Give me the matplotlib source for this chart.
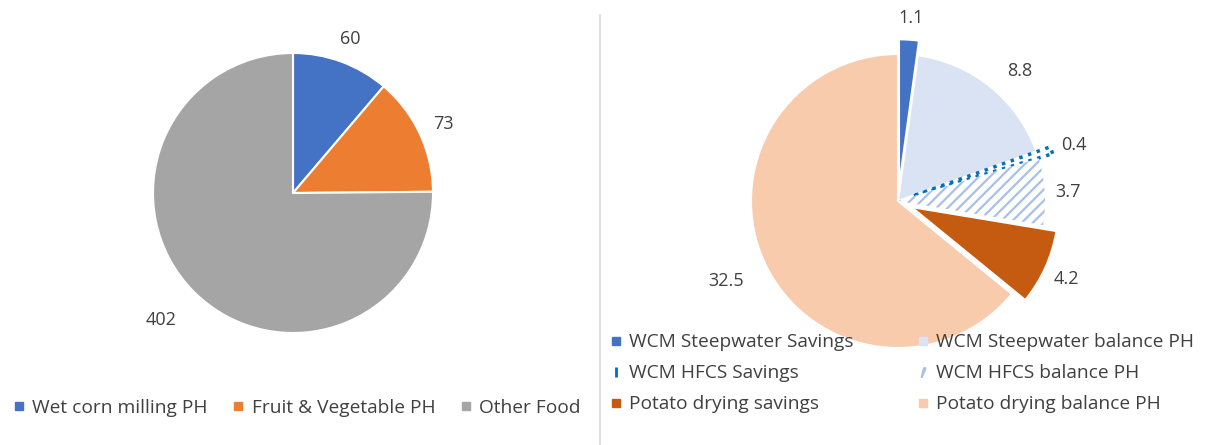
import matplotlib.pyplot as plt
from matplotlib.lines import Line2D

plt.rcParams['font.family'] = ['Open Sans', 'DejaVu Sans']
plt.rcParams['hatch.linewidth'] = 1.6

# left pie data
left_labels = ['Wet corn milling PH', 'Fruit & Vegetable PH', 'Other Food']
left_values = [60, 73, 402]
left_colors = ['#4472C4', '#ED7D31', '#A5A5A5']

# right pie data
right_labels = ['WCM Steepwater Savings', 'WCM Steepwater balance PH',
                'WCM HFCS Savings', 'WCM HFCS balance PH',
                'Potato drying savings', 'Potato drying balance PH']
right_values = [1.1, 8.8, 0.4, 3.7, 4.2, 32.5]
right_colors = ['#4472C4', '#DAE3F3', '#0070C0', '#FFFFFF', '#C55A11', '#F8CBAD']
right_explode = [0.1, 0, 0.1, 0, 0.1, 0]

txt = '#404040'
W, H = 1217, 445
fig = plt.figure(figsize=(W / 100, H / 100), dpi=100)


def pie_axes(cx, cy, r, lim):
    s = r * lim
    return fig.add_axes([(cx - s) / W, (H - cy - s) / H, 2 * s / W, 2 * s / H])


# ---- left chart
ax1 = pie_axes(293, 193, 140, 1.45)
w1, t1 = ax1.pie(left_values, colors=left_colors, startangle=90, counterclock=False,
                 labels=[str(v) for v in left_values], labeldistance=1.19,
                 wedgeprops=dict(edgecolor='white', linewidth=1.5),
                 textprops=dict(color=txt, fontsize=13))
for t in t1:
    t.set_ha('center')
    t.set_va('center_baseline')
# Excel put the big label lower-left
t1[2].set_position((-0.94, -0.89))
ax1.set_xlim(-1.45, 1.45)
ax1.set_ylim(-1.45, 1.45)
ax1.set_aspect('equal')
h1 = [Line2D([], [], marker='s', ls='', color=c, markersize=6) for c in left_colors]
fig.legend(h1, left_labels, loc='center', bbox_to_anchor=(297 / W, 1 - 408 / H),
           ncol=3, frameon=False, fontsize=13.8, labelcolor=txt,
           handlelength=0.6, handletextpad=0.4, columnspacing=1.3)

# ---- right chart
ax2 = pie_axes(898, 201, 147, 1.4)
w2, t2 = ax2.pie(right_values, colors=right_colors, startangle=90, counterclock=False,
                 explode=right_explode, labels=[str(v) for v in right_values],
                 labeldistance=1.16,
                 wedgeprops=dict(edgecolor='white', linewidth=1.5),
                 textprops=dict(color=txt, fontsize=13))
for t in t2:
    t.set_ha('center')
    t.set_va('center_baseline')
# nudge a couple of labels where Excel put them
x, y = t2[1].get_position()
t2[1].set_position((x + 0.1, y))
x, y = t2[5].get_position()
t2[5].set_position((x - 0.12, y - 0.03))
w2[2].set_facecolor('white')
w2[2].set_edgecolor('#0070C0')
w2[2].set_linestyle(':')
w2[2].set_linewidth(2.5)
w2[3].set_hatch('///')
w2[3].set_edgecolor('#A9C0E6')
w2[3].set_linewidth(0)
ax2.set_xlim(-1.4, 1.4)
ax2.set_ylim(-1.4, 1.4)
ax2.set_aspect('equal')

h2 = [Line2D([], [], marker='s', ls='', color='#4472C4', markersize=6),
      Line2D([], [], marker='s', ls='', color='#DAE3F3', markersize=6),
      Line2D([], [], marker='|', ls='', color='#0070C0', markersize=7, mew=2),
      Line2D([], [], marker=r'$\prime$', ls='', color='#A9C0E6', markersize=7),
      Line2D([], [], marker='s', ls='', color='#C55A11', markersize=6),
      Line2D([], [], marker='s', ls='', color='#F8CBAD', markersize=6)]
# legend fills row by row like Excel
order = [0, 2, 4, 1, 3, 5]
fig.legend([h2[i] for i in order], [right_labels[i] for i in order],
           loc='upper left', bbox_to_anchor=(593 / W, 1 - 316 / H),
           ncol=2, frameon=False, fontsize=13.8, labelcolor=txt,
           handlelength=0.6, handletextpad=0.4, columnspacing=3.3,
           labelspacing=0.68)

# divider between the two charts
fig.add_artist(Line2D([600 / W, 600 / W], [0, 1 - 15 / H], color='#D9D9D9', lw=1.2))

fig.savefig('out.png', dpi=100)
